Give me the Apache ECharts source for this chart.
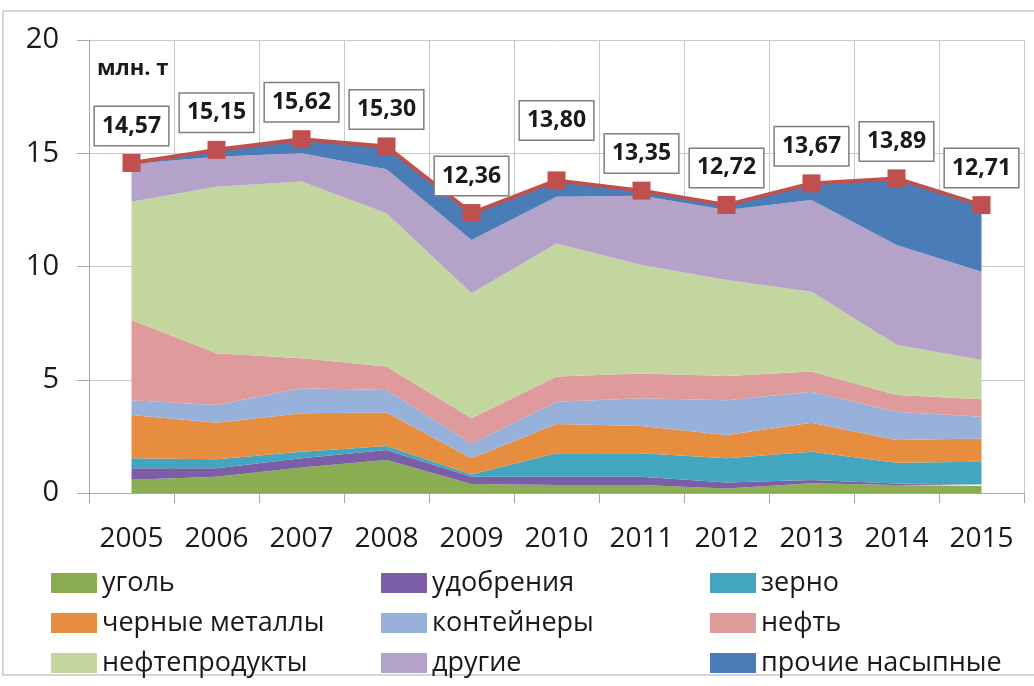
<!DOCTYPE html>
<html>
<head>
<meta charset="utf-8">
<script src="https://cdn.jsdelivr.net/npm/echarts@6/dist/echarts.min.js"></script>
<style>
  html, body { margin: 0; padding: 0; background: #fff; }
  #main { width: 1034px; height: 686px; }
</style>
</head>
<body>
<div id="main"></div>
<script>
// годы
const years = ["2005", "2006", "2007", "2008", "2009", "2010", "2011", "2012", "2013", "2014", "2015"];

// грузы по видам, млн. т
const ugol        = [0.59, 0.72, 1.13, 1.46, 0.40, 0.35, 0.35, 0.20, 0.43, 0.35, 0.31];
const udobreniya  = [0.50, 0.37, 0.40, 0.44, 0.32, 0.37, 0.37, 0.26, 0.14, 0.07, 0.07];
const zerno       = [0.44, 0.40, 0.29, 0.17, 0.10, 1.03, 1.03, 1.07, 1.25, 0.92, 1.00];
const chernye     = [1.91, 1.61, 1.70, 1.48, 0.71, 1.30, 1.21, 1.03, 1.28, 1.00, 1.03];
const konteinery  = [0.66, 0.79, 1.10, 1.00, 0.66, 0.98, 1.22, 1.54, 1.37, 1.25, 0.96];
const neft        = [3.54, 2.28, 1.33, 1.03, 1.11, 1.11, 1.10, 1.07, 0.89, 0.74, 0.77];
const nefteprod   = [5.22, 7.35, 7.80, 6.77, 5.52, 5.88, 4.79, 4.23, 3.53, 2.22, 1.73];
const drugie      = [1.66, 1.33, 1.25, 1.94, 2.35, 2.06, 3.05, 3.09, 4.05, 4.40, 3.90];
const prochie     = [0.05, 0.30, 0.62, 1.01, 1.19, 0.72, 0.23, 0.23, 0.73, 2.94, 2.94];

// итого
const totals = [14.57, 15.15, 15.62, 15.30, 12.36, 13.80, 13.35, 12.72, 13.67, 13.89, 12.71];

const yTicks = [0, 5, 10, 15, 20];

const layers = [
  { name: "уголь", data: ugol, color: "#8aad52" },
  { name: "удобрения", data: udobreniya, color: "#7c5ea6" },
  { name: "зерно", data: zerno, color: "#43a6c0" },
  { name: "черные металлы", data: chernye, color: "#e68d40" },
  { name: "контейнеры", data: konteinery, color: "#98b1db" },
  { name: "нефть", data: neft, color: "#df9a9b" },
  { name: "нефтепродукты", data: nefteprod, color: "#c3d69f" },
  { name: "другие", data: drugie, color: "#b4a2c9" },
  { name: "прочие насыпные", data: prochie, color: "#4a7db8" }
];

const FONT = "Open Sans";

let myChart = echarts.init(document.getElementById("main"));

let series = layers.map(function (l) {
  return {
    name: l.name,
    type: "line",
    stack: "all",
    data: l.data,
    symbol: "none",
    lineStyle: { width: 0 },
    areaStyle: { color: l.color, opacity: 1 },
    itemStyle: { color: l.color },
    emphasis: { disabled: true },
    z: 2
  };
});

// линия итого с подписями
series.push({
  name: "итого",
  type: "line",
  data: totals.map(function (v, i) {
    // подпись 2010 года поднята выше
    if (i === 5) return { value: v, label: { distance: 32 } };
    return v;
  }),
  symbol: "rect",
  symbolSize: 18,
  lineStyle: { color: "#c0504d", width: 4 },
  itemStyle: { color: "#c0504d" },
  label: {
    show: true,
    position: "top",
    distance: 9,
    formatter: function (p) { return p.value.toFixed(2).replace(".", ","); },
    fontFamily: FONT,
    fontWeight: "bold",
    fontSize: 23,
    lineHeight: 26,
    color: "#1a1a1a",
    backgroundColor: "#fff",
    borderColor: "#7f7f7f",
    borderWidth: 1.5,
    padding: [6, 7]
  },
  z: 5
});

function legendCol(names, left) {
  return {
    orient: "vertical",
    left: left,
    top: 563,
    itemWidth: 46,
    itemHeight: 20,
    itemGap: 10,
    icon: "rect",
    data: names,
    selectedMode: false,
    textStyle: { fontFamily: FONT, fontSize: 27, lineHeight: 30, color: "#1a1a1a" }
  };
}

let option = {
  animation: false,
  backgroundColor: "#fff",
  grid: { left: 89, right: 10, top: 40, bottom: 193 },
  legend: [
    legendCol(["уголь", "черные металлы", "нефтепродукты"], 46),
    legendCol(["удобрения", "контейнеры", "другие"], 376),
    legendCol(["зерно", "нефть", "прочие насыпные"], 705)
  ],
  xAxis: {
    type: "category",
    data: years,
    boundaryGap: true,
    axisLine: { lineStyle: { color: "#a6a6a6", width: 1 } },
    axisTick: { show: true, length: 10, lineStyle: { color: "#a6a6a6" } },
    splitLine: { show: true, lineStyle: { color: "#c8c8c8", width: 1 } },
    axisLabel: { interval: 0, fontFamily: FONT, fontSize: 28, color: "#1a1a1a", margin: 32 }
  },
  yAxis: {
    type: "value",
    min: yTicks[0],
    max: yTicks[yTicks.length - 1],
    interval: 5,
    axisLine: { show: true, lineStyle: { color: "#a6a6a6", width: 1 } },
    axisTick: { show: true, length: 12, lineStyle: { color: "#a6a6a6" } },
    splitLine: { lineStyle: { color: "#c8c8c8", width: 1 } },
    axisLabel: { fontFamily: FONT, fontSize: 29, color: "#1a1a1a", margin: 30 }
  },
  graphic: [
    {
      type: "rect",
      shape: { x: 3, y: 11, width: 1040, height: 664 },
      style: { fill: "none", stroke: "#c8c8c8", lineWidth: 1.5 },
      silent: true,
      z: -1
    },
    {
      type: "text",
      left: 97,
      top: 58,
      style: { text: "млн. т", fontFamily: FONT, fontWeight: "bold", fontSize: 22, fill: "#1a1a1a" },
      z: 10
    }
  ],
  series: series
};

option && myChart.setOption(option);
</script>
</body>
</html>
